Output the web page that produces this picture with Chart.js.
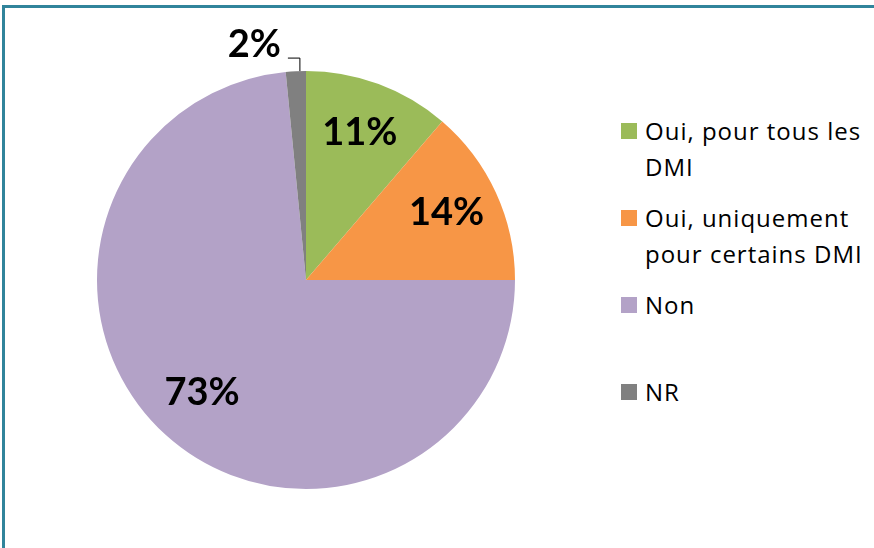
<!DOCTYPE html>
<html>
<head>
<meta charset="utf-8">
<script src="https://cdn.jsdelivr.net/npm/chart.js@4"></script>
<style>
    body { margin: 0; background: #fff; }
    #page { position: relative; width: 874px; height: 548px; overflow: hidden; font-family: "Open Sans", sans-serif; }
    #frame { position: absolute; left: 2px; top: 5px; width: 900px; height: 600px; border-left: 3px solid #31849B; border-top: 3px solid #31849B; }
    #chartBox { position: absolute; left: 0; top: 0; width: 612px; height: 548px; }
    #legend { position: absolute; left: 621px; top: 113px; }
    .item { position: absolute; left: 0; width: 260px; }
    .swatch { position: absolute; left: 0; top: 10px; width: 16px; height: 16px; }
    .text { position: absolute; left: 24px; width: 226px; font-size: 24px; letter-spacing: 1px; line-height: 36px; color: #000; }
</style>
</head>
<body>
<div id="page">
    <div id="frame"></div>
    <div id="chartBox"><canvas id="pieChart"></canvas></div>
    <div id="legend"></div>
</div>
<script>
const categories = ['Oui, pour tous les DMI', 'Oui, uniquement pour certains DMI', 'Non', 'NR'];
const values = [11.3, 13.7, 73.45, 1.55];
const colors = ['#9BBB59', '#F79646', '#B3A2C7', '#808080'];

// percentage labels drawn on (or beside) each slice
const pieLabels = {
    id: 'pieLabels',
    afterDatasetsDraw(chart) {
        const ctx = chart.ctx;
        const total = values.reduce((s, v) => s + v, 0);
        const arcs = chart.getDatasetMeta(0).data;
        ctx.save();
        ctx.fillStyle = '#000';
        ctx.font = 'bold 38px Lato, "Open Sans", sans-serif';
        arcs.forEach((arc, i) => {
            const p = arc.getProps(['x', 'y', 'startAngle', 'endAngle', 'outerRadius'], true);
            const pct = Math.round(values[i] / total * 100) + '%';
            if (values[i] / total >= 0.05) {
                const mid = (p.startAngle + p.endAngle) / 2;
                const r = p.outerRadius * 0.74;
                ctx.textAlign = 'center';
                ctx.textBaseline = 'alphabetic';
                ctx.fillText(pct, p.x + Math.cos(mid) * r, p.y + Math.sin(mid) * r + 10);
            } else {
                const a = p.endAngle - (p.endAngle - p.startAngle) * 0.3;
                const ex = p.x + Math.cos(a) * p.outerRadius;
                const ey = p.y + Math.sin(a) * p.outerRadius;
                ctx.strokeStyle = '#000';
                ctx.lineWidth = 1;
                ctx.beginPath();
                ctx.moveTo(ex, ey);
                ctx.lineTo(ex, ey - 13);
                ctx.lineTo(ex - 12, ey - 13);
                ctx.stroke();
                ctx.textAlign = 'right';
                ctx.textBaseline = 'alphabetic';
                ctx.fillText(pct, ex - 19, ey - 14);
            }
        });
        ctx.restore();
    }
};

const chart = new Chart(document.getElementById('pieChart'), {
    type: 'pie',
    data: {
        labels: categories,
        datasets: [{
            data: values,
            backgroundColor: colors,
            borderWidth: 0
        }]
    },
    options: {
        responsive: true,
        maintainAspectRatio: false,
        animation: false,
        layout: { padding: { left: 97, right: 97, top: 71, bottom: 59 } },
        plugins: {
            legend: { display: false },
            tooltip: { enabled: false }
        }
    },
    plugins: [pieLabels]
});

// html legend built from the chart's own data
const legend = document.getElementById('legend');
chart.data.labels.forEach((label, i) => {
    const item = document.createElement('div');
    item.className = 'item';
    item.style.top = (i * 87) + 'px';
    item.innerHTML = `<div class="swatch" style="background:${colors[i]}"></div><div class="text">${label}</div>`;
    legend.appendChild(item);
});
</script>
</body>
</html>
